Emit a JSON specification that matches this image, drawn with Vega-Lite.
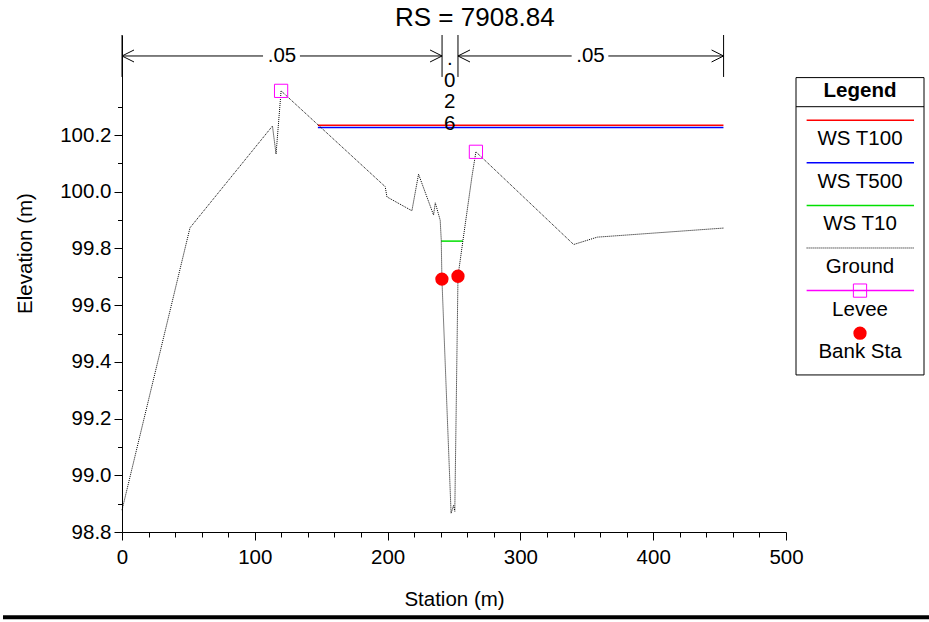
{
  "$schema": "https://vega.github.io/schema/vega-lite/v6.json",
  "padding": {"left": 0, "right": 0, "top": 4, "bottom": 0},
  "bounds": "flush",
  "spacing": 10,
  "title": {"text": "RS = 7908.84", "fontSize": 26, "fontWeight": "normal", "font": "Liberation Sans", "color": "black", "anchor": "middle", "frame": "bounds", "offset": 4, "dx": 6},
  "config": {
    "font": "Liberation Sans",
    "view": {"stroke": null},
    "axis": {"labelFont": "Liberation Sans", "labelFontSize": 20.5, "labelColor": "black", "titleFont": "Liberation Sans", "titleFontSize": 20.5, "titleFontWeight": "normal", "titleColor": "black", "domainColor": "black", "tickColor": "black", "grid": false, "labelFlush": false, "labelOverlap": false, "labelBound": false},
    "text": {"font": "Liberation Sans", "fontSize": 20.5, "color": "black"}
  },
  "resolve": {"scale": {"color": "independent", "shape": "independent"}},
  "datasets": {
    "ground": [
      {"station": 0, "elev": 98.877},
      {"station": 51.2, "elev": 99.873},
      {"station": 113.3, "elev": 100.232},
      {"station": 116.0, "elev": 100.133},
      {"station": 119.8, "elev": 100.356},
      {"station": 198.2, "elev": 100.018},
      {"station": 199.5, "elev": 99.982},
      {"station": 218.3, "elev": 99.933},
      {"station": 223.3, "elev": 100.062},
      {"station": 234.6, "elev": 99.918},
      {"station": 235.9, "elev": 99.961},
      {"station": 239.6, "elev": 99.9},
      {"station": 240.4, "elev": 99.83},
      {"station": 240.9, "elev": 99.692},
      {"station": 247.8, "elev": 98.866},
      {"station": 249.7, "elev": 98.894},
      {"station": 250.6, "elev": 98.873},
      {"station": 253.0, "elev": 99.702},
      {"station": 256.7, "elev": 99.827},
      {"station": 263.5, "elev": 100.053},
      {"station": 266.5, "elev": 100.141},
      {"station": 340.1, "elev": 99.814},
      {"station": 357.9, "elev": 99.84},
      {"station": 452.9, "elev": 99.872}
    ],
    "ws": [
      {"profile": "WS T100", "station": 147.5, "elev": 100.235},
      {"profile": "WS T100", "station": 452.9, "elev": 100.235},
      {"profile": "WS T500", "station": 147.5, "elev": 100.227},
      {"profile": "WS T500", "station": 452.9, "elev": 100.227},
      {"profile": "WS T10", "station": 240.4, "elev": 99.826},
      {"profile": "WS T10", "station": 256.7, "elev": 99.826}
    ],
    "levee": [
      {"station": 119.8, "elev": 100.356},
      {"station": 266.5, "elev": 100.141}
    ],
    "bank": [
      {"station": 240.9, "elev": 99.692},
      {"station": 253.0, "elev": 99.702}
    ],
    "nbounds": [
      {"station": 0}, {"station": 241}, {"station": 253}, {"station": 453}
    ],
    "nsegments": [
      {"station": 0, "station_end": 106.2},
      {"station": 134.0, "station_end": 241},
      {"station": 253, "station_end": 338.6},
      {"station": 366.2, "station_end": 453}
    ],
    "nheads": [
      {"station": 0, "dir": "left"},
      {"station": 241, "dir": "right"},
      {"station": 253, "dir": "left"},
      {"station": 453, "dir": "right"}
    ],
    "nlabels": [
      {"station": 120.5, "n": ".05"},
      {"station": 352.8, "n": ".05"}
    ],
    "nmid": [
      {"station": 246.8, "n": [".", "0", "2", "6"]}
    ],
    "legend": [
      {"item": "WS T100", "pos": 2, "symbol": "line"},
      {"item": "WS T500", "pos": 3, "symbol": "line"},
      {"item": "WS T10", "pos": 4, "symbol": "line"},
      {"item": "Ground", "pos": 5, "symbol": "dotted"},
      {"item": "Levee", "pos": 6, "symbol": "levee"},
      {"item": "Bank Sta", "pos": 7, "symbol": "dot"}
    ]
  },
  "hconcat": [
    {
      "width": 664,
      "height": 497,
      "resolve": {"axis": {"x": "independent", "y": "independent"}},
      "layer": [
        {
          "layer": [
            {
              "data": {"name": "ws"},
              "mark": {"type": "line", "strokeWidth": 1.5},
              "encoding": {
                "x": {"field": "station", "type": "quantitative", "scale": {"domain": [0, 500], "nice": false, "zero": false},
                  "axis": {"values": [0, 100, 200, 300, 400, 500], "format": "d", "tickSize": 8, "labelPadding": 7, "title": "Station (m)", "titleY": 73, "titleBaseline": "alphabetic", "orient": "bottom"}},
                "y": {"field": "elev", "type": "quantitative", "scale": {"domain": [98.8, 100.553], "nice": false, "zero": false},
                  "axis": {"values": [98.8, 99.0, 99.2, 99.4, 99.6, 99.8, 100.0, 100.2], "format": ".1f", "tickSize": 8, "labelPadding": 3, "title": "Elevation (m)", "titleX": -91, "titleY": 218, "titleAngle": -90, "titleBaseline": "alphabetic", "titleAlign": "center", "orient": "left"}},
                "color": {"field": "profile", "type": "nominal", "scale": {"domain": ["WS T100", "WS T500", "WS T10"], "range": ["#ff0000", "#0000ff", "#00e000"]}, "legend": null},
                "detail": {"field": "profile"}
              }
            },
            {
              "data": {"name": "ground"},
              "mark": {"type": "line", "stroke": "black", "strokeWidth": 1, "strokeDash": [1, 1]},
              "encoding": {
                "x": {"field": "station", "type": "quantitative"},
                "y": {"field": "elev", "type": "quantitative"}
              }
            },
            {
              "data": {"name": "levee"},
              "mark": {"type": "point", "shape": "square", "filled": false, "stroke": "#ff00ff", "strokeWidth": 1, "size": 175, "opacity": 1},
              "encoding": {
                "x": {"field": "station", "type": "quantitative"},
                "y": {"field": "elev", "type": "quantitative"}
              }
            },
            {
              "data": {"name": "nbounds"},
              "mark": {"type": "rule", "stroke": "black", "strokeWidth": 1},
              "encoding": {
                "x": {"field": "station", "type": "quantitative"},
                "y": {"datum": 100.405},
                "y2": {"datum": 100.553}
              }
            },
            {
              "data": {"name": "nsegments"},
              "mark": {"type": "rule", "stroke": "black", "strokeWidth": 1},
              "encoding": {
                "x": {"field": "station", "type": "quantitative"},
                "x2": {"field": "station_end"},
                "y": {"datum": 100.479}
              }
            },
            {
              "data": {"name": "nheads"},
              "mark": {"type": "point", "filled": false, "stroke": "black", "strokeWidth": 1, "size": 144, "opacity": 1},
              "encoding": {
                "x": {"field": "station", "type": "quantitative"},
                "y": {"datum": 100.479},
                "shape": {"field": "dir", "type": "nominal", "scale": {"domain": ["left", "right"], "range": ["M0,0L2,-1M0,0L2,1", "M0,0L-2,-1M0,0L-2,1"]}, "legend": null}
              }
            },
            {
              "data": {"name": "nlabels"},
              "mark": {"type": "text", "baseline": "middle", "align": "center"},
              "encoding": {
                "x": {"field": "station", "type": "quantitative"},
                "y": {"datum": 100.479},
                "text": {"field": "n"}
              }
            },
            {
              "data": {"name": "nmid"},
              "mark": {"type": "text", "baseline": "alphabetic", "align": "center", "lineHeight": 21.5},
              "encoding": {
                "x": {"field": "station", "type": "quantitative"},
                "y": {"datum": 100.447},
                "text": {"field": "n"}
              }
            },
            {
              "data": {"values": [{}]},
              "mark": {"type": "rule", "stroke": "black", "strokeWidth": 4},
              "encoding": {
                "x": {"datum": -89.61},
                "x2": {"datum": 612},
                "y": {"datum": 98.4992}
              }
            }
          ]
        },
        {
          "data": {"name": "bank"},
          "mark": {"type": "point", "shape": "circle", "filled": true, "color": "#ff0000", "size": 177, "opacity": 1},
          "encoding": {
            "x": {"field": "station", "type": "quantitative", "scale": {"domain": [0, 500], "nice": false, "zero": false},
              "axis": {"values": [20, 40, 60, 80, 120, 140, 160, 180, 220, 240, 260, 280, 320, 340, 360, 380, 420, 440, 460, 480], "tickSize": 5, "labels": false, "domain": false, "title": null, "orient": "bottom"}},
            "y": {"field": "elev", "type": "quantitative", "scale": {"domain": [98.8, 100.553], "nice": false, "zero": false},
              "axis": {"values": [98.9, 99.1, 99.3, 99.5, 99.7, 99.9, 100.1, 100.3], "tickSize": 4.5, "labels": false, "domain": false, "title": null, "orient": "left"}}
          }
        }
      ]
    },
    {
      "width": 128,
      "height": 497,
      "layer": [
        {
          "data": {"values": [{}]},
          "mark": {"type": "rect", "fill": "transparent", "stroke": "black", "strokeWidth": 1},
          "encoding": {
            "x": {"datum": 0, "type": "quantitative", "scale": {"domain": [0, 1], "nice": false, "zero": false}, "axis": null},
            "x2": {"datum": 1},
            "y": {"datum": 1.0, "type": "quantitative", "scale": {"domain": [0, 11.667], "reverse": true, "nice": false, "zero": false}, "axis": null},
            "y2": {"datum": 7.98}
          }
        },
        {
          "data": {"values": [{}]},
          "mark": {"type": "rule", "stroke": "black", "strokeWidth": 1},
          "encoding": {
            "x": {"datum": 0, "type": "quantitative"},
            "x2": {"datum": 1},
            "y": {"datum": 1.683, "type": "quantitative"}
          }
        },
        {
          "data": {"values": [{"t": "Legend"}]},
          "mark": {"type": "text", "fontWeight": "bold", "baseline": "middle", "align": "center"},
          "encoding": {
            "x": {"datum": 0.5, "type": "quantitative"},
            "y": {"datum": 1.307, "type": "quantitative"},
            "text": {"field": "t"}
          }
        },
        {
          "data": {"name": "legend"},
          "transform": [{"filter": "datum.symbol === 'line' || datum.symbol === 'levee'"}],
          "mark": {"type": "rule", "strokeWidth": 1.5},
          "encoding": {
            "x": {"datum": 0.083, "type": "quantitative"},
            "x2": {"datum": 0.922},
            "y": {"field": "pos", "type": "quantitative"},
            "color": {"field": "item", "type": "nominal", "scale": {"domain": ["WS T100", "WS T500", "WS T10", "Levee"], "range": ["#ff0000", "#0000ff", "#00e000", "#ff00ff"]}, "legend": null}
          }
        },
        {
          "data": {"name": "legend"},
          "transform": [{"filter": "datum.symbol === 'dotted'"}],
          "mark": {"type": "rule", "stroke": "black", "strokeWidth": 1, "strokeDash": [1, 1]},
          "encoding": {
            "x": {"datum": 0.083, "type": "quantitative"},
            "x2": {"datum": 0.922},
            "y": {"field": "pos", "type": "quantitative"}
          }
        },
        {
          "data": {"name": "legend"},
          "transform": [{"filter": "datum.symbol === 'levee'"}],
          "mark": {"type": "point", "shape": "square", "filled": false, "stroke": "#ff00ff", "strokeWidth": 1, "size": 175, "opacity": 1},
          "encoding": {
            "x": {"datum": 0.5, "type": "quantitative"},
            "y": {"field": "pos", "type": "quantitative"}
          }
        },
        {
          "data": {"name": "legend"},
          "transform": [{"filter": "datum.symbol === 'dot'"}],
          "mark": {"type": "point", "shape": "circle", "filled": true, "color": "#ff0000", "size": 177, "opacity": 1},
          "encoding": {
            "x": {"datum": 0.5, "type": "quantitative"},
            "y": {"field": "pos", "type": "quantitative"}
          }
        },
        {
          "data": {"name": "legend"},
          "mark": {"type": "text", "baseline": "middle", "align": "center", "dy": 19},
          "encoding": {
            "x": {"datum": 0.5, "type": "quantitative"},
            "y": {"field": "pos", "type": "quantitative"},
            "text": {"field": "item"}
          }
        }
      ]
    }
  ]
}
